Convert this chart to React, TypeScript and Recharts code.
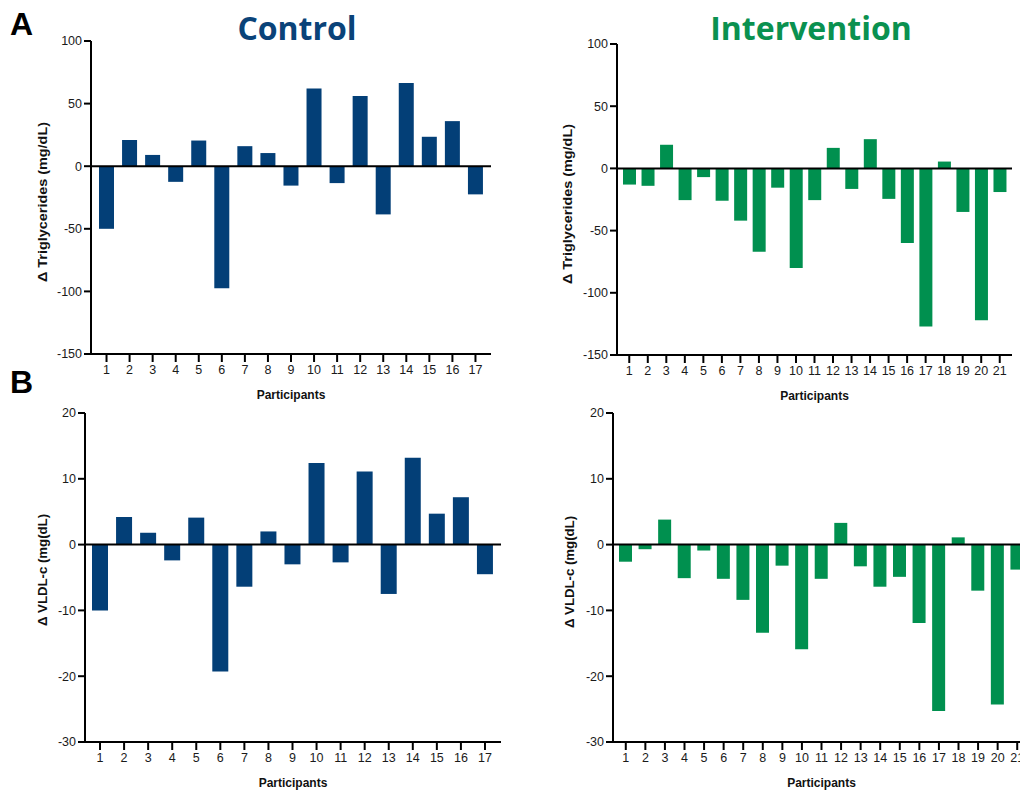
import React from 'react'
import { BarChart, Bar, XAxis, YAxis, ReferenceLine } from 'recharts'

const controlIds = ['1', '2', '3', '4', '5', '6', '7', '8', '9', '10', '11', '12', '13', '14', '15', '16', '17']
const interventionIds = ['1', '2', '3', '4', '5', '6', '7', '8', '9', '10', '11', '12', '13', '14', '15', '16', '17', '18', '19', '20', '21']

const controlTG = [-50, 21, 9, -12.5, 20.5, -97.5, 16, 10.5, -15.5, 62, -13.5, 56, -38.5, 66.5, 23.5, 36, -22.5]
const interventionTG = [-13, -14, 19, -25.5, -7, -26, -42, -67, -15.5, -80, -25.5, 16.5, -16.5, 23.5, -24.5, -60, -127, 5.5, -35, -122, -19]
const controlVLDL = [-10, 4.2, 1.8, -2.4, 4.1, -19.3, -6.4, 2.0, -3.0, 12.4, -2.7, 11.1, -7.5, 13.2, 4.7, 7.2, -4.5]
const interventionVLDL = [-2.6, -0.7, 3.8, -5.1, -0.9, -5.2, -8.4, -13.4, -3.2, -15.9, -5.2, 3.3, -3.3, -6.4, -4.9, -11.9, -25.3, 1.1, -7.0, -24.3, -3.8]

const tgTicks = [100, 50, 0, -50, -100, -150]
const vldlTicks = [20, 10, 0, -10, -20, -30]

const BLUE = '#033f77'
const GREEN = '#00904f'
const FONT = '"Liberation Sans", Arial, sans-serif'

const toRows = (ids: string[], values: number[]) => ids.map((p, i) => ({ p, v: values[i] }))

interface PanelProps {
  ids: string[]
  values: number[]
  ticks: number[]
  color: string
  left: number
  top: number
  width: number
  height: number
  margin: { top: number; right: number; bottom: number; left: number }
  barSize: number
  pad: { left: number; right: number }
}

function Panel({ ids, values, ticks, color, left, top, width, height, margin, barSize, pad }: PanelProps) {
  const tickStyle = { fill: '#1a1a1a', fontSize: 12.5, fontFamily: FONT }
  return (
    <div style={{ position: 'absolute', left, top }}>
      <BarChart width={width} height={height} data={toRows(ids, values)} margin={margin}>
        <XAxis
          dataKey="p"
          interval={0}
          tick={tickStyle}
          tickSize={8}
          tickMargin={3}
          padding={pad}
          height={45}
          axisLine={{ stroke: '#000', strokeWidth: 2 }}
          tickLine={{ stroke: '#000', strokeWidth: 2 }}
          label={{ value: 'Participants', position: 'insideBottom', offset: 0, fill: '#111', fontSize: 12, fontWeight: 700, fontFamily: FONT }}
        />
        <YAxis
          type="number"
          domain={[ticks[ticks.length - 1], ticks[0]]}
          ticks={ticks}
          interval={0}
          width={50}
          tick={tickStyle}
          tickSize={7}
          tickMargin={2}
          allowDataOverflow
          axisLine={{ stroke: '#000', strokeWidth: 2 }}
          tickLine={{ stroke: '#000', strokeWidth: 2 }}
        />
        <Bar dataKey="v" fill={color} barSize={barSize} isAnimationActive={false} />
        <ReferenceLine y={0} stroke="#000" strokeWidth={2} />
      </BarChart>
    </div>
  )
}

const textBase: React.CSSProperties = { position: 'absolute', whiteSpace: 'nowrap', lineHeight: 1 }

function YLabel({ text, cx, cy, scale }: { text: string; cx: number; cy: number; scale: number }) {
  return (
    <div
      style={{
        ...textBase,
        left: cx,
        top: cy,
        fontFamily: FONT,
        fontWeight: 700,
        fontSize: 12,
        color: '#111',
        transform: `translate(-50%, -50%) rotate(-90deg) scaleX(${scale})`
      }}
    >
      {text}
    </div>
  )
}

export default function App() {
  return (
    <div style={{ position: 'fixed', left: 0, top: 0, width: 1020, height: 790, overflow: 'hidden', background: '#fff' }}>
      <Panel ids={controlIds} values={controlTG} ticks={tgTicks} color={BLUE} left={0} top={0} width={510} height={410}
        margin={{ top: 41, right: 19, bottom: 11, left: 41 }} barSize={15} pad={{ left: 4, right: 4 }} />
      <Panel ids={interventionIds} values={interventionTG} ticks={tgTicks} color={GREEN} left={510} top={0} width={510} height={410}
        margin={{ top: 44, right: 8, bottom: 10, left: 57 }} barSize={13} pad={{ left: 3, right: 3 }} />
      <Panel ids={controlIds} values={controlVLDL} ticks={vldlTicks} color={BLUE} left={0} top={380} width={510} height={410}
        margin={{ top: 33, right: 9, bottom: 3, left: 35 }} barSize={16} pad={{ left: 3, right: 4 }} />
      <Panel ids={interventionIds} values={interventionVLDL} ticks={vldlTicks} color={GREEN} left={510} top={380} width={530} height={410}
        margin={{ top: 33, right: 10, bottom: 3, left: 53 }} barSize={13} pad={{ left: 3, right: 3 }} />

      <div style={{ ...textBase, left: 10, top: 8, fontFamily: FONT, fontWeight: 700, fontSize: 32, color: '#000' }}>A</div>
      <div style={{ ...textBase, left: 10, top: 366, fontFamily: FONT, fontWeight: 700, fontSize: 32, color: '#000' }}>B</div>

      <div style={{ ...textBase, left: 297, top: 12, transform: 'translateX(-50%)', fontFamily: '"Open Sans", sans-serif', fontWeight: 700, fontSize: 32, color: '#0a4379' }}>Control</div>
      <div style={{ ...textBase, left: 811, top: 12, transform: 'translateX(-50%)', fontFamily: '"Open Sans", sans-serif', fontWeight: 700, fontSize: 32, color: '#0a9150' }}>Intervention</div>

      <YLabel text="Δ Triglycerides (mg/dL)" cx={43} cy={202} scale={1.2} />
      <YLabel text="Δ Triglycerides (mg/dL)" cx={568} cy={204} scale={1.2} />
      <YLabel text="Δ VLDL-c (mg(dL)" cx={43} cy={570} scale={1.1} />
      <YLabel text="Δ VLDL-c (mg(dL)" cx={570} cy={572} scale={1.1} />
    </div>
  )
}
